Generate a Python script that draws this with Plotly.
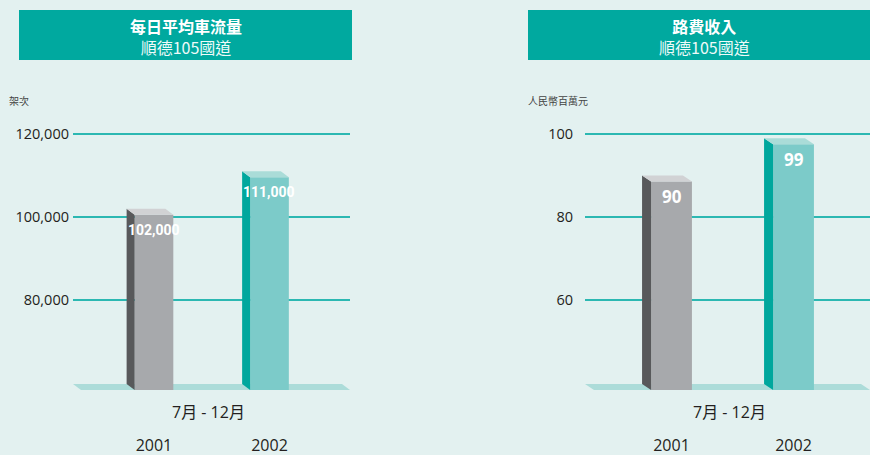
import plotly.graph_objects as go

# ---------------- data ----------------
years = ["2001", "2002"]
traffic = [102000, 111000]          # 每日平均車流量 (架次)
revenue = [90, 99]                  # 路費收入 (人民幣百萬元)
traffic_ticks = [80000, 100000, 120000]
revenue_ticks = [60, 80, 100]
period_label = "7月 - 12月"
titles = [("每日平均車流量", "順德105國道"), ("路費收入", "順德105國道")]
units = ["架次", "人民幣百萬元"]

# ---------------- style ----------------
W, H = 870, 455
BG = "#e3f1f0"
TEAL = "#00a99f"
GRID = "#2cb8b2"
FLOOR = "#acdcd9"
FRONT = ["#a7a9ac", "#7ccbc9"]
SIDE = ["#58595b", "#00a79d"]
CAP = ["#d1d2d4", "#aadcd8"]
TXT = "#231f20"
FONT = "Open Sans, Noto Sans CJK TC, sans-serif"
CJK = "Noto Sans CJK TC, sans-serif"


def px(x):
    return x / W


def py(y):
    return 1 - y / H


ydom = [py(390), py(130)]
panels = [
    dict(vals=traffic, ticks=traffic_ticks, xdom=[px(73), px(350)],
         xr=[-0.701, 1.697], yr=[58313, 120964], dx=0.0693, dy=1446,
         fmt=lambda v: f"{v:,}",
         lblfont=dict(family="Liberation Sans Narrow, Roboto, sans-serif", size=14, color="white", weight="bold"),
         standoff=3, box=[19, 352], tcx=185.5, ucx=7),
    dict(vals=revenue, ticks=revenue_ticks, xdom=[px(585), 1.0],
         xr=[-0.709, 1.627], yr=[38.313, 100.964], dx=0.0738, dy=1.446,
         fmt=lambda v: f"{v}", lblfont=dict(family=FONT, size=17, color="white", weight="bold"),
         standoff=11, box=[528, 882], tcx=704.5, ucx=526),
]

fig = go.Figure()
shapes = []
annotations = []

for k, p in enumerate(panels):
    xa = "x" if k == 0 else "x2"
    ya = "y" if k == 0 else "y2"
    ybot = p["yr"][0]
    xlo, xhi = p["xr"]
    dx, dy = p["dx"], p["dy"]
    bw = 0.335

    # floor strip
    shapes.append(dict(type="path", xref=xa, yref=ya, layer="below", line=dict(width=0),
                       fillcolor=FLOOR,
                       path=f"M {xlo} {ybot + dy} L {xhi - dx} {ybot + dy} L {xhi} {ybot} L {xlo + dx} {ybot} Z"))

    for i, v in enumerate(p["vals"]):
        L, R = i - bw / 2, i + bw / 2
        front_top = v - dy   # the back (top) edge of the 3D box sits at the value
        # front face
        fig.add_trace(go.Scatter(x=[L, R, R, L, L],
                                 y=[ybot, ybot, front_top, front_top, ybot],
                                 fill="toself", fillcolor=FRONT[i], mode="none",
                                 xaxis=xa, yaxis=ya, showlegend=False,
                                 hoverinfo="text", hovertext=f"{years[i]}: {p['fmt'](v)}"))
        # side face
        fig.add_trace(go.Scatter(x=[L - dx, L, L, L - dx, L - dx],
                                 y=[v, front_top, ybot, ybot + dy, v],
                                 fill="toself", fillcolor=SIDE[i], mode="none",
                                 xaxis=xa, yaxis=ya, showlegend=False, hoverinfo="skip"))
        # top cap
        fig.add_trace(go.Scatter(x=[L - dx, R - dx, R, L, L - dx],
                                 y=[v, v, front_top, front_top, v],
                                 fill="toself", fillcolor=CAP[i], mode="none",
                                 xaxis=xa, yaxis=ya, showlegend=False, hoverinfo="skip"))
        # value label
        annotations.append(dict(x=i, y=v, xref=xa, yref=ya, text=p["fmt"](v), showarrow=False,
                                yshift=-21, yanchor="middle", xanchor="center", font=p["lblfont"]))

    # period label
    annotations.append(dict(x=0.5, y=py(412), xref=xa, yref="paper", text=period_label, showarrow=False,
                            xshift=-3, xanchor="center", yanchor="middle",
                            font=dict(family=FONT, size=16, color=TXT)))

    # title box
    shapes.append(dict(type="rect", xref="paper", yref="paper", x0=px(p["box"][0]), x1=px(p["box"][1]),
                       y0=py(60), y1=py(10), fillcolor=TEAL, line=dict(width=0), layer="below"))
    annotations.append(dict(x=px(p["tcx"]), y=py(36.5), xref="paper", yref="paper",
                            text=f"<b>{titles[k][0]}</b><br><span style='color:#eefaf9'>{titles[k][1]}</span>",
                            showarrow=False, xanchor="center", yanchor="middle", align="center",
                            font=dict(family=CJK, size=16, color="white")))
    # unit label
    annotations.append(dict(x=px(p["ucx"]), y=py(100), xref="paper", yref="paper", text=units[k],
                            showarrow=False, xanchor="left", yanchor="middle",
                            font=dict(family=CJK, size=10, color="#444444")))

    axis_x = dict(domain=p["xdom"], range=p["xr"], tickvals=[0, 1], ticktext=years,
                  showgrid=False, zeroline=False, showline=False, ticks="",
                  tickfont=dict(family=FONT, size=16, color=TXT), ticklabelstandoff=44,
                  anchor=ya, fixedrange=True)
    axis_y = dict(domain=ydom, range=p["yr"], tickvals=p["ticks"], ticktext=[p["fmt"](t) for t in p["ticks"]],
                  showgrid=True, gridcolor=GRID, gridwidth=1.5, zeroline=False, showline=False, ticks="",
                  tickfont=dict(family=FONT, size=14.5, color=TXT), ticklabelstandoff=p["standoff"],
                  anchor=xa, fixedrange=True)
    if k == 0:
        fig.update_layout(xaxis=axis_x, yaxis=axis_y)
    else:
        fig.update_layout(xaxis2=axis_x, yaxis2=axis_y)

fig.update_layout(width=W, height=H, margin=dict(l=0, r=0, t=0, b=0, autoexpand=False),
                  paper_bgcolor=BG, plot_bgcolor="rgba(0,0,0,0)",
                  shapes=shapes, annotations=annotations, showlegend=False)

fig.write_html("out.html", config={"displayModeBar": False},
               post_script="document.body.style.margin='0px';document.body.style.overflow='hidden';")
